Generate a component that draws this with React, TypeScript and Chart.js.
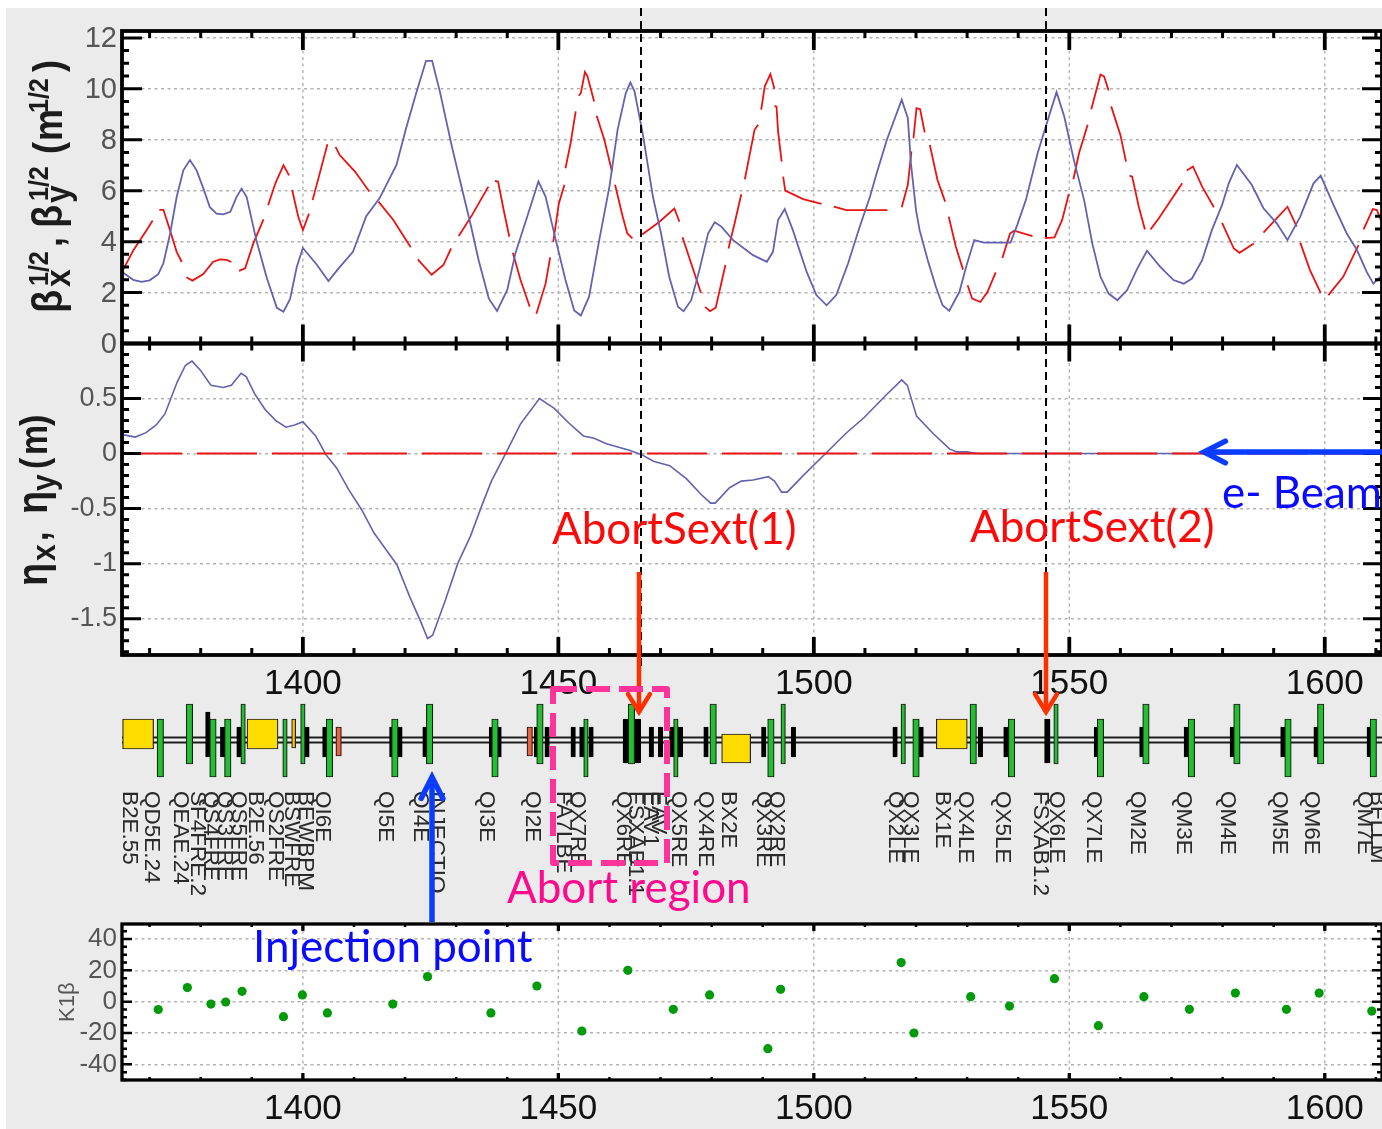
import React, { useEffect, useRef } from "react";
import { Chart, registerables } from "chart.js";

Chart.register(...registerables);

const W = 1382, H = 1129;
const S_MIN = 1364.6, S_MAX = 1611.2;

// sqrt(beta x)
const betaXS = [1364.7,1366.8,1368.4,1370,1371.7,1372.7,1374,1375.3,1376.6,1377.9,1379.2,1380.5,1381.8,1383.1,1384.4,1385.8,1387,1388,1389,1390.9,1392.9,1394.9,1396.2,1397.5,1398.8,1400,1402.7,1405,1407.2,1409.8,1412.4,1415,1418.3,1420.2,1422.2,1424.1,1425.3,1426.8,1429.2,1431.5,1432.8,1434.4,1436.4,1438,1440,1441.6,1443.9,1446.1,1447.5,1449.5,1451.4,1453.1,1454.4,1456,1458,1460,1461.6,1463.2,1464.1,1464.9,1466.5,1468.5,1470.1,1471.7,1473.4,1474.5,1476,1477.6,1479.3,1480.6,1481.9,1484.2,1488.1,1490.8,1492,1493,1494.3,1495.9,1498.6,1500.5,1502.5,1504.4,1506.7,1509,1511,1512.3,1514.3,1517.2,1518.4,1519,1520,1520.7,1522.3,1523.9,1525.2,1526.5,1528.5,1529.8,1531.4,1533.3,1538.5,1539.8,1541.5,1543.8,1545.4,1547.5,1549,1550.9,1552.9,1554.5,1556.1,1557.7,1559.4,1561.3,1563.3,1565.2,1567.8,1570.4,1572.4,1574,1576,1577.9,1579.9,1581.2,1582.8,1585.7,1588,1590.6,1592.7,1595.2,1597.8,1599.2,1601.7,1604.3,1606.3,1608.2,1609.5,1611.2];
const betaXV = [2.8,2.5,2.42,2.48,2.72,3.15,4.3,5.75,6.8,7.2,6.8,6.1,5.35,5.1,5.07,5.17,5.75,6.08,5.75,4.05,2.6,1.4,1.25,1.75,3,3.75,3.1,2.45,3,3.6,5,5.7,7,8.45,9.85,11.1,11.1,9.9,7.7,5.77,4.7,3.27,1.76,1.28,2.1,3.54,4.98,6.36,5.77,4.06,2.49,1.3,1.1,1.83,4.06,6.16,8.4,9.83,10.25,9.9,8.26,5.77,4.32,2.62,1.44,1.27,1.7,2.88,4.32,4.76,4.59,4.06,3.47,3.21,3.6,4.85,5.28,4.45,2.81,1.9,1.5,1.9,3.14,4.59,5.77,6.68,8,9.57,8.85,7.08,5.24,4.45,3.27,2.22,1.5,1.28,2.03,3,4.06,3.96,3.96,4.65,5.63,7.47,8.52,9.87,8.92,7.2,5.63,3.93,2.62,1.96,1.7,2.09,2.94,3.64,3.01,2.49,2.35,2.55,3.27,4.45,5.44,6.29,7.01,6.23,5.31,4.72,4.06,4.98,6.29,6.59,5.44,4.32,3.67,2.81,2.35,2.68];

// sqrt(beta y), null marks a break of the long-dash pattern
const betaYS = [1364.7,1366.8,1369.4,1370.6,1371.2,1371.9,1372.7,1374,1375.3,1376.3,1376.8,1377.2,1378.4,1380.5,1382.4,1383.8,1385.1,1386,1386.8,1387.5,1388.7,1390.3,1392.3,1392.8,1393.2,1394.6,1396.2,1397.3,1397.6,1397.9,1399.1,1400,1401.2,1401.5,1401.9,1403.3,1404.8,1405.6,1406.4,1407.2,1410.2,1413,1414,1414.8,1417.7,1421.1,1421.8,1422.5,1425.2,1427.5,1429,1429.8,1430.5,1433.1,1436.3,1437,1437.6,1438.2,1439.3,1440.4,1440.8,1441.1,1442.6,1444.4,1445,1445.7,1447.5,1448.4,1448.7,1449,1450.1,1451.2,1451.3,1451.4,1452.4,1453.4,1453.7,1454,1454.4,1455.2,1455.7,1457,1457.2,1457.5,1459,1460.5,1460.8,1461.1,1462.6,1463.5,1464.5,1465.4,1466.4,1469.8,1472.7,1473.7,1474,1474.3,1476,1477.9,1478.3,1478.7,1479.7,1480.8,1482.7,1483,1483.3,1484.5,1485.8,1486.1,1486.5,1488.4,1489.1,1489.4,1489.7,1490.4,1491.5,1492.3,1492.3,1492.3,1492.7,1493,1493.7,1493.9,1494,1494.4,1497.9,1501.5,1502.7,1503.9,1506.4,1514.4,1515.8,1517.2,1518.4,1519.1,1519.3,1519.5,1520.1,1520.8,1521.7,1522.2,1522.7,1524.2,1525.7,1526,1526.4,1527.8,1529.2,1529.6,1530.1,1531,1532.6,1534,1535.6,1536.2,1536.9,1538.4,1539.2,1542.8,1544,1545.2,1547.1,1548.6,1549.9,1550.4,1550.8,1551.9,1553.6,1554,1554.3,1556.1,1556.8,1557.7,1558,1558.2,1560,1561.1,1561.5,1561.8,1562.3,1563.6,1564.8,1565.4,1565.9,1567.5,1572.1,1572.5,1573,1574.2,1576,1578.3,1579,1579.9,1582.2,1583.3,1586.1,1587,1588,1592.7,1594.5,1594.8,1595.2,1597.1,1599.2,1600,1600.7,1603.6,1606.6,1607,1607.6,1609.4,1610.2,1611.2];
const betaYV = [2.85,3.65,4.45,4.83,null,5.25,5.25,4.45,3.6,3.2,null,2.6,2.47,2.73,3.2,3.3,3.28,3.2,null,2.85,2.95,3.93,4.87,null,5.43,6.28,7,6.6,null,6.03,4.98,4.45,5.1,null,5.63,6.68,7.82,null,7.72,7.4,6.75,5.97,null,5.57,4.85,3.78,null,3.3,2.7,3.08,3.73,null,4.22,5.04,6.16,null,6.38,6.36,5.24,4.19,null,3.56,2.49,1.44,null,1.17,2.35,3.38,null,3.99,5.5,6.23,null,6.88,7.87,9.11,null,9.73,9.83,10.66,10.49,9.5,null,8.94,8,6.75,null,6.23,4.98,4.32,4.13,null,4.28,4.78,5.3,4.78,null,4.17,3.14,1.99,null,1.44,1.27,1.41,3.08,null,3.73,4.72,5.86,null,6.45,8.39,8.59,null,9.18,10.1,10.58,10,null,9.33,9.3,8.33,7.14,null,6.55,6,5.67,5.48,null,5.37,5.24,5.24,null,5.35,6.23,7.54,null,8.06,9.24,9.2,8.29,null,7.8,6.42,5.57,null,4.98,3.8,2.9,null,2.29,1.76,1.63,2.03,2.79,null,3.36,4.32,4.43,4.22,null,4.14,4.17,4.85,5.87,null,6.45,7.47,8.59,null,9.2,10.56,10.49,9.93,null,9.31,8.19,7.14,null,6.59,6.55,5.37,4.48,null,4.48,4.91,6.29,null,6.79,6.95,6.16,5.35,null,4.74,3.73,3.56,3.93,null,4.35,5.37,4.59,null,3.96,2.88,1.99,null,1.9,2.62,3.86,null,4.48,5.28,5.24,4.72];

// dispersion
const etaXS = [1365,1367.2,1369.3,1371.3,1373,1375.4,1377,1378.3,1379.9,1382,1384.4,1386,1387.9,1388.9,1390.6,1392.6,1394.7,1396.7,1398.4,1400,1402.5,1404.5,1406.6,1409,1411.5,1413.9,1416.4,1418.4,1420.9,1423,1424.4,1425.4,1427.9,1430.3,1432.8,1435.2,1436.9,1439.8,1442.6,1446.3,1449.2,1452,1454.9,1457,1459.4,1463.9,1466.3,1468.6,1471.8,1475.1,1477.9,1479.8,1480.7,1483.5,1485.8,1488.1,1491.1,1492.3,1493.7,1494.8,1497.9,1502.5,1506.2,1509.9,1514.1,1517.2,1518.3,1520.1,1523.4,1526.6,1528,1529.9,1532,1611.2];
const etaXV = [0.17,0.15,0.19,0.26,0.36,0.65,0.8,0.84,0.76,0.62,0.6,0.62,0.73,0.7,0.54,0.4,0.3,0.24,0.26,0.29,0.16,-0.01,-0.13,-0.33,-0.51,-0.72,-0.88,-1.01,-1.3,-1.52,-1.68,-1.65,-1.33,-1,-0.75,-0.45,-0.25,0.01,0.27,0.5,0.41,0.28,0.16,0.14,0.09,0.03,-0.01,-0.07,-0.11,-0.23,-0.37,-0.45,-0.45,-0.31,-0.25,-0.24,-0.21,-0.25,-0.35,-0.35,-0.2,0.01,0.18,0.33,0.53,0.67,0.62,0.34,0.18,0.04,0.015,0.015,0,0];
const etaYS = [1364.6, 1611.2];
const etaYV = [0, 0];

// K1 beta
const kS = [1371.7,1377.4,1382,1384.9,1388.1,1396.2,1399.9,1404.8,1417.6,1424.4,1436.8,1445.8,1454.6,1463.6,1472.5,1479.6,1491,1493.5,1517.1,1519.6,1530.7,1538.3,1547.1,1555.7,1564.6,1573.5,1582.5,1592.5,1598.9,1609.2];
const kV = [-5,9,-1.5,-0.2,6.6,-9.6,4.3,-7.2,-1.5,16,-7.2,10,-18.7,20,-4.9,4.3,-30,7.9,25,-20,3.2,-2.8,14.7,-15.3,3.2,-4.9,5.5,-4.9,5.5,-6];

// lattice element positions
const quadUp = [1377.8,1424.8,1446.4,1464.3,1480.3,1531.2,1565,1582.8,1599.2];
const quadUpNarrow = [1388.3,1400,1494,1517.5,1547.4];
const quadDown = [1372.1,1382.4,1385.3,1405.2,1418,1437.6,1491.6,1520,1538.7,1556.1,1573.9,1592.8,1609.5];
const quadDownNarrow = [1396.5,1455.4,1473];
const sextShort = [1384.3,1387.5,1400.8,1404.3,1417.4,1419,1423.9,1436.9,1438.4,1445.7,1447.8,1452.9,1454.6,1456.4,1468.2,1470,1472.2,1473.9,1478.9,1490.2,1496,1515.9,1521,1532.6,1537.6,1555.3,1564.2,1572.9,1581.9,1591.8,1598.3,1608.7];
const sextTall = [1381.4];
const sextLarge = [1463.2,1465.6,1545.7];
const bendUp = [1367.75,1392.1,1527];
const bendDown = [1484.8];
const corrector = [1398.2];
const septum = [1407,1444.4];

const latticeNames = ["B2E.55","QD5E.24","QEAE.24","SF4FRE.2","QS4FRE","QS3FRE","QS5FRE","B2E.56","QS2FRE","BSWFRE","BEWBPM","QI6E","QI5E","QI4E","INJECTIO","QI3E","QI2E","FA7LBE","QX7RE","QX6RE","FSXAB1.1","EAV1","EAV","QX5RE","QX4RE","BX2E","QX3RE","QX2RE","QX2LE","QX3LE","BX1E","QX4LE","QX5LE","FSXAB1.2","QX6LE","QX7LE","QM2E","QM3E","QM4E","QM5E","QM6E","QM7E","BFLLM"];
const latticeNameS = [1366,1370.4,1375.9,1379.3,1381.8,1384.7,1387.3,1390.6,1394.5,1397.7,1400.4,1403.7,1416.2,1422.9,1426,1435.8,1444.8,1450.9,1453.6,1462.6,1465,1467.9,1469.5,1473.4,1478.7,1483.2,1490,1492.7,1515.9,1518.8,1525.2,1529.6,1536.9,1544.4,1547.4,1554.6,1563.2,1572.2,1581,1591,1597.4,1607.8,1610.2];

const TITLE_BETA = [
  { t: "β", y: 313, dx: 62, font: "bold 38px 'Liberation Sans'" },
  { t: "x", y: 287, dx: 70, font: "bold 32px 'Liberation Sans'" },
  { t: "1/2", y: 286, dx: 48, font: "bold 25px 'Liberation Sans'" },
  { t: ",", y: 247, dx: 62, font: "bold 36px 'Liberation Sans'" },
  { t: "β", y: 228, dx: 62, font: "bold 38px 'Liberation Sans'" },
  { t: "y", y: 203, dx: 70, font: "bold 32px 'Liberation Sans'" },
  { t: "1/2", y: 201, dx: 48, font: "bold 25px 'Liberation Sans'" },
  { t: "(", y: 154, dx: 62, font: "bold 36px 'Liberation Sans'" },
  { t: "m", y: 141, dx: 62, font: "bold 36px 'Liberation Sans'" },
  { t: "1/2", y: 113, dx: 48, font: "bold 25px 'Liberation Sans'" },
  { t: ")", y: 72, dx: 62, font: "bold 36px 'Liberation Sans'" },
];
const TITLE_ETA = [
  { t: "η", y: 586, dx: 47, font: "bold 38px 'Liberation Sans'" },
  { t: "x", y: 561, dx: 55, font: "bold 30px 'Liberation Sans'" },
  { t: ",", y: 541, dx: 48, font: "bold 34px 'Liberation Sans'" },
  { t: "η", y: 514, dx: 47, font: "bold 38px 'Liberation Sans'" },
  { t: "y", y: 491, dx: 55, font: "bold 30px 'Liberation Sans'" },
  { t: "(", y: 469, dx: 47, font: "bold 34px 'Liberation Sans'" },
  { t: "m", y: 455, dx: 47, font: "bold 34px 'Liberation Sans'" },
  { t: ")", y: 426, dx: 47, font: "bold 34px 'Liberation Sans'" },
];

const CALLOUTS = [
  { t: "AbortSext(1)", x: 552, y: 544, w: 246, c: "#fb0a0a" },
  { t: "AbortSext(2)", x: 970, y: 542, w: 245, c: "#fb0a0a" },
  { t: "Abort region", x: 507, y: 903, w: 244, c: "#ff0a8c" },
  { t: "Injection point", x: 253, y: 962, w: 282, c: "#0a0aff" },
  { t: "e- Beam", x: 1222, y: 508, w: 160, c: "#0a0aff" },
];

function pts(xs: number[], ys: (number | null)[]) {
  return xs.map((x, i) => ({ x, y: ys[i] }));
}
function magnets(xs: number[], hi: number, lo: number) {
  return xs.map((x) => ({ x, y: [lo, hi] }));
}

function arrow(ctx: CanvasRenderingContext2D, x0: number, y0: number, x1: number, y1: number, color: string, lw: number, head: number, spread: number) {
  const a = Math.atan2(y1 - y0, x1 - x0);
  ctx.save();
  ctx.strokeStyle = color;
  ctx.lineWidth = lw;
  ctx.beginPath();
  ctx.moveTo(x0, y0);
  ctx.lineTo(x1 - Math.cos(a) * 2, y1 - Math.sin(a) * 2);
  ctx.stroke();
  ctx.lineCap = "round";
  ctx.lineJoin = "miter";
  ctx.beginPath();
  ctx.moveTo(x1 - head * Math.cos(a - spread), y1 - head * Math.sin(a - spread));
  ctx.lineTo(x1, y1);
  ctx.lineTo(x1 - head * Math.cos(a + spread), y1 - head * Math.sin(a + spread));
  ctx.stroke();
  ctx.restore();
}

function panelTicks(ctx: CanvasRenderingContext2D, chart: any, yId: string, yMajor: number, yMinor: number, lens: number[], lw: number) {
  const x = chart.scales.x;
  const y = chart.scales[yId];
  const L = chart.chartArea.left, R = chart.chartArea.right;
  const T = y.top, B = y.bottom;
  ctx.save();
  ctx.strokeStyle = "#000";
  // x ticks
  for (let s = 1370; s <= 1610; s += 10) {
    const major = s % 50 === 0;
    const len = major ? lens[0] : lens[1];
    const px = x.getPixelForValue(s);
    ctx.lineWidth = major ? lw + 0.8 : lw;
    ctx.beginPath();
    ctx.moveTo(px, T); ctx.lineTo(px, T + len);
    ctx.moveTo(px, B); ctx.lineTo(px, B - len);
    ctx.stroke();
  }
  // y ticks
  const start = Math.ceil(y.min / yMinor);
  for (let k = start; k * yMinor <= y.max + 1e-9; k++) {
    const v = k * yMinor;
    const major = Math.abs(v / yMajor - Math.round(v / yMajor)) < 1e-6;
    const len = major ? lens[2] : lens[3];
    const py = y.getPixelForValue(v);
    ctx.lineWidth = lw;
    ctx.beginPath();
    ctx.moveTo(L, py); ctx.lineTo(L + len, py);
    ctx.moveTo(R, py); ctx.lineTo(R - len, py);
    ctx.stroke();
  }
  ctx.lineWidth = lw + 0.8;
  ctx.strokeRect(L, T, R - L, B - T);
  ctx.restore();
}

const decorations = {
  id: "decorations",
  beforeDraw(chart: any) {
    const { ctx, scales, chartArea } = chart;
    ctx.save();
    ctx.fillStyle = "#fff";
    ctx.fillRect(0, 0, W, H);
    ctx.fillStyle = "#ebebeb";
    ctx.fillRect(6, 8, W - 6, H - 8);
    ctx.fillStyle = "#fff";
    for (const id of ["yBeta", "yEta", "yK"]) {
      const y = scales[id];
      ctx.fillRect(chartArea.left, y.top, chartArea.right - chartArea.left, y.bottom - y.top);
    }
    ctx.restore();
  },
  beforeDatasetsDraw(chart: any) {
    const { ctx, scales } = chart;
    ctx.save();
    ctx.strokeStyle = "#b2b2b2";
    ctx.lineWidth = 1.4;
    ctx.setLineDash([3, 3.5]);
    for (const id of ["yBeta", "yEta", "yK"]) {
      const y = scales[id];
      for (let s = 1400; s <= 1600; s += 50) {
        const px = scales.x.getPixelForValue(s);
        ctx.beginPath();
        ctx.moveTo(px, y.top);
        ctx.lineTo(px, y.bottom);
        ctx.stroke();
      }
    }
    ctx.restore();
  },
  afterDatasetsDraw(chart: any) {
    const { ctx, scales } = chart;
    panelTicks(ctx, chart, "yBeta", 2, 0.5, [19, 7, 20, 7], 3);
    panelTicks(ctx, chart, "yEta", 0.5, 0.1, [18, 7, 19, 7], 3);
    panelTicks(ctx, chart, "yK", 20, 5, [7, 3, 10, 5], 2.5);

    // second x scale, above the lattice
    ctx.save();
    ctx.fillStyle = "#111";
    ctx.font = "35px 'Liberation Sans'";
    ctx.textAlign = "center";
    ctx.textBaseline = "middle";
    for (let s = 1400; s <= 1600; s += 50) {
      ctx.fillText(String(s), scales.x.getPixelForValue(s), 684);
    }
    ctx.restore();

    // element names
    ctx.save();
    ctx.fillStyle = "#2a2a2a";
    ctx.font = "22.5px 'Liberation Sans'";
    ctx.textAlign = "left";
    ctx.textBaseline = "middle";
    latticeNames.forEach((name, i) => {
      ctx.save();
      ctx.translate(scales.x.getPixelForValue(latticeNameS[i]), 791);
      ctx.rotate(Math.PI / 2);
      ctx.fillText(name, 0, 0);
      ctx.restore();
    });
    ctx.restore();

    // axis titles
    ctx.save();
    ctx.fillStyle = "#1c1c1c";
    ctx.textAlign = "left";
    ctx.textBaseline = "alphabetic";
    for (const r of [...TITLE_BETA, ...TITLE_ETA]) {
      ctx.save();
      ctx.font = r.font;
      ctx.translate(r.dx, r.y);
      ctx.rotate(-Math.PI / 2);
      ctx.scale(1, 1.12);
      ctx.fillText(r.t, 0, 0);
      ctx.restore();
    }
    ctx.fillStyle = "#555";
    ctx.font = "22px 'Liberation Sans'";
    ctx.save();
    ctx.translate(74, 1022);
    ctx.rotate(-Math.PI / 2);
    ctx.fillText("K1β", 0, 0);
    ctx.restore();
    ctx.restore();

    // abort sextupole markers
    ctx.save();
    ctx.strokeStyle = "#000";
    ctx.lineWidth = 2;
    ctx.setLineDash([8, 5]);
    for (const px of [641, 1046]) {
      ctx.beginPath();
      ctx.moveTo(px, 8);
      ctx.lineTo(px, 668);
      ctx.stroke();
    }
    ctx.restore();

    arrow(ctx, 639, 572, 639, 712, "#ff3000", 4.5, 21, 0.55);
    arrow(ctx, 1046, 572, 1046, 712, "#ff3000", 4.5, 21, 0.55);
    arrow(ctx, 432, 922, 432, 777, "#0a3cff", 5.5, 24, 0.47);
    arrow(ctx, 1382, 452, 1204, 452, "#0a3cff", 5.5, 24, 0.47);

    // abort region box
    ctx.save();
    ctx.strokeStyle = "#ff3399";
    ctx.lineWidth = 6;
    ctx.setLineDash([24, 9]);
    ctx.lineJoin = "round";
    ctx.strokeRect(553, 689, 114, 174);
    ctx.restore();

    // callouts
    ctx.save();
    ctx.font = "44px Lato";
    ctx.textAlign = "left";
    ctx.textBaseline = "alphabetic";
    for (const c of CALLOUTS) {
      ctx.fillStyle = c.c;
      ctx.fillText(c.t, c.x, c.y, c.w);
    }
    ctx.restore();
  },
};

const bar = (id: string, data: any[], thickness: number, color: string, order: number, border = "#1e1e1e") => ({
  type: "bar" as const,
  label: id,
  data,
  yAxisID: "yLat",
  barThickness: thickness,
  grouped: false,
  backgroundColor: color,
  borderColor: border,
  borderWidth: 1.2,
  borderSkipped: false,
  order,
});
const line = (id: string, data: any[], yAxisID: string, color: string, width: number, order: number) => ({
  type: "line" as const,
  label: id,
  data,
  yAxisID,
  borderColor: color,
  borderWidth: width,
  pointRadius: 0,
  tension: 0,
  spanGaps: false,
  order,
});

export default function App() {
  const ref = useRef<HTMLCanvasElement>(null);
  useEffect(() => {
    const beam = [{ x: S_MIN, y: 0 }, { x: S_MAX, y: 0 }];
    const chart = new Chart(ref.current as HTMLCanvasElement, {
      type: "line",
      data: {
        datasets: [
          line("beta y", pts(betaYS, betaYV), "yBeta", "#ec1212", 1.8, 2),
          line("beta x", pts(betaXS, betaXV), "yBeta", "#6262b0", 1.8, 1),
          { ...line("eta y", pts(etaYS, etaYV), "yEta", "#ec1212", 2, 1), borderDash: [60, 15] },
          line("eta x", pts(etaXS, etaXV), "yEta", "#6262b0", 1.6, 2),
          {
            type: "line" as const,
            label: "K1",
            data: pts(kS, kV),
            yAxisID: "yK",
            showLine: false,
            pointRadius: 4.6,
            pointBackgroundColor: "#009a0a",
            pointBorderWidth: 0,
          },
          bar("quad up", magnets(quadUp, 36, -24), 6.5, "#22c02e", 3),
          bar("quad up narrow", magnets(quadUpNarrow, 36, -24), 4.5, "#22c02e", 3),
          bar("quad down", magnets(quadDown, 21, -37), 6.5, "#22c02e", 3),
          bar("quad down narrow", magnets(quadDownNarrow, 21, -37), 4.5, "#22c02e", 3),
          bar("bend up", magnets(bendUp, 21, -9), 31, "#ffdc00", 3),
          bar("bend down", magnets(bendDown, 6, -23), 29, "#ffdc00", 3),
          bar("corrector", magnets(corrector, 21, -8), 4, "#ffc800", 3),
          bar("septum", magnets(septum, 13, -16), 5.5, "#f0603a", 3),
          bar("sext short", magnets(sextShort, 13, -17), 4.5, "#000", 4, "#000"),
          bar("sext tall", magnets(sextTall, 28, -17), 4.5, "#000", 4, "#000"),
          bar("sext large", magnets(sextLarge, 21, -23), 5.5, "#000", 4, "#000"),
          line("beam inner", beam, "yLat", "#efefef", 3, 5),
          line("beam outer", beam, "yLat", "#1e1e1e", 7, 6),
        ] as any,
      },
      options: {
        responsive: false,
        animation: false,
        events: [],
        layout: { autoPadding: false, padding: { left: 12, top: 31, right: 0, bottom: 0 } },
        plugins: { legend: { display: false }, tooltip: { enabled: false }, title: { display: false } },
        scales: {
          x: {
            type: "linear",
            min: S_MIN,
            max: S_MAX,
            offset: false,
            afterFit: (s: any) => { s.height = 49; s.paddingLeft = 0; s.paddingRight = 0; },
            grid: { display: false },
            border: { display: false },
            ticks: { stepSize: 50, includeBounds: false, autoSkip: false, maxRotation: 0, padding: 0, color: "#111", font: { family: "'Liberation Sans'", size: 35 }, callback: (v: any) => String(v) },
          },
          yK: {
            axis: "y", type: "linear", min: -50, max: 49.6, stack: "main", stackWeight: 156,
            afterFit: (s: any) => { s.width = 110; },
            grid: { color: "#b2b2b2", lineWidth: 1.4, tickLength: 0, drawTicks: false },
            border: { display: false, dash: [3, 3.5] },
            ticks: { stepSize: 20, includeBounds: false, autoSkip: false, padding: 5, color: "#555", font: { family: "'Liberation Sans'", size: 26 } },
          },
          yLat: {
            axis: "y", type: "linear", min: -184, max: 85, stack: "main", stackWeight: 269,
            afterFit: (s: any) => { s.width = 110; },
            grid: { display: false, drawTicks: false },
            border: { display: false },
            ticks: { display: false },
          },
          yEta: {
            axis: "y", type: "linear", min: -1.83, max: 1, stack: "main", stackWeight: 311.5,
            afterFit: (s: any) => { s.width = 110; },
            grid: { color: "#b2b2b2", lineWidth: 1.4, tickLength: 0, drawTicks: false },
            border: { display: false, dash: [3, 3.5] },
            ticks: { stepSize: 0.5, includeBounds: false, autoSkip: false, padding: 5, color: "#555", font: { family: "'Liberation Sans'", size: 27 }, callback: (v: any) => (v > 0.6 ? "" : String(v)) },
          },
          yBeta: {
            axis: "y", type: "linear", min: 0, max: 12.27, stack: "main", stackWeight: 312.5,
            afterFit: (s: any) => { s.width = 110; },
            grid: { color: "#b2b2b2", lineWidth: 1.4, tickLength: 0, drawTicks: false },
            border: { display: false, dash: [3, 3.5] },
            ticks: { stepSize: 2, includeBounds: false, autoSkip: false, padding: 5, labelOffset: 1, color: "#555", font: { family: "'Liberation Sans'", size: 29 } },
          },
        },
      } as any,
      plugins: [decorations],
    });
    return () => chart.destroy();
  }, []);
  return (
    <canvas
      ref={ref}
      width={W}
      height={H}
      style={{ position: "absolute", left: 0, top: 0, width: W, height: H, display: "block", filter: "blur(0.5px)" }}
    />
  );
}
